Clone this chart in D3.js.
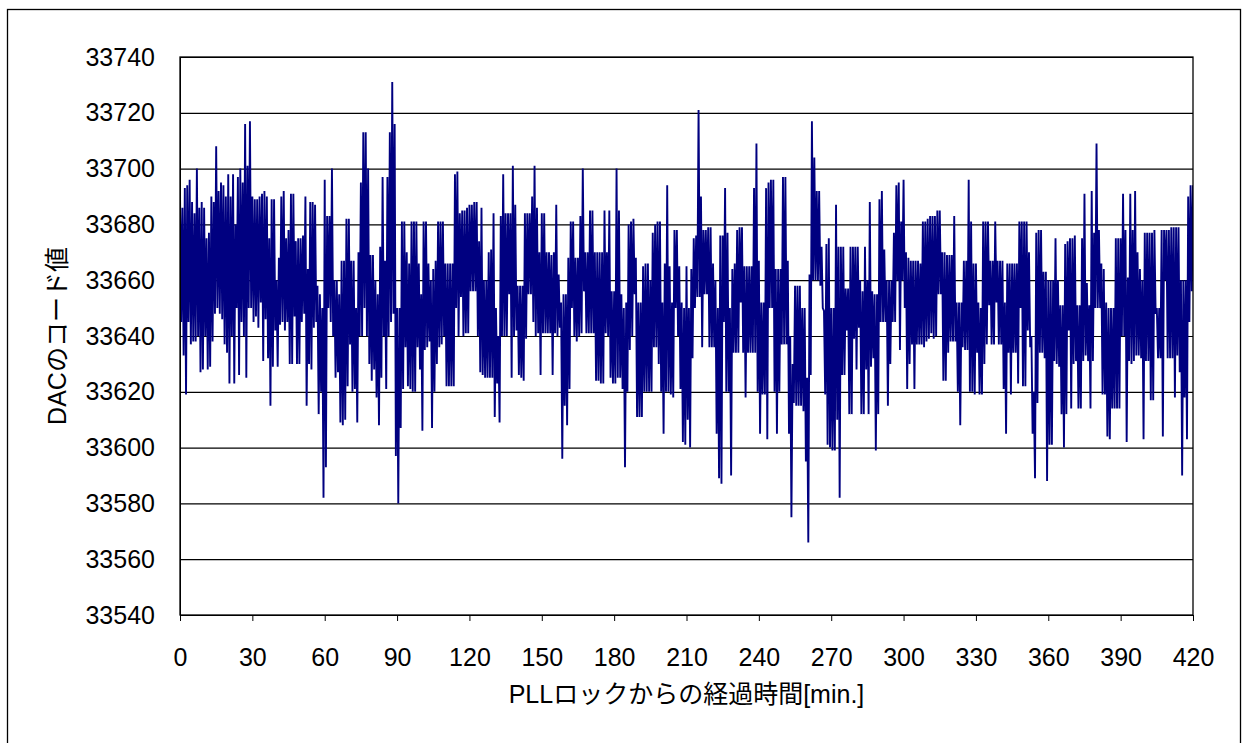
<!DOCTYPE html>
<html>
<head>
<meta charset="utf-8">
<title>DACのコード値</title>
<script src="https://cdnjs.cloudflare.com/ajax/libs/d3/7.8.5/d3.min.js"></script>
<style>
body { margin: 0; background: #fff; }
text { font-family: "Liberation Sans", "Noto Sans CJK JP", sans-serif; fill: #000; }
.grid line { stroke: #000; stroke-width: 1.2px; }
.axis path, .axis line { stroke: #000; stroke-width: 1px; }
.trace { fill: none; stroke: #000080; stroke-width: 1.9px; stroke-linejoin: miter; }
</style>
</head>
<body>
<div id="chart"></div>
<script>
// one reading pair per minute: the highest and the lowest code seen in it
var highCodes = [
  33692,33686,33693,33694,33696,33688,33684,33700,33686,33688,
  33686,33675,33677,33690,33688,33708,33692,33695,33694,33690,
  33698,33690,33698,33680,33697,33700,33695,33716,33701,33717,
  33690,33689,33689,33690,33691,33692,33690,33675,
  33689,33689,33660,33668,33690,33692,33675,33678,33691,33691,33674,33675,
  33675,33676,33690,33664,33688,33688,33687,33658,33655,33650,
  33696,33683,33683,33700,33660,33660,33655,33667,33667,33682,
  33682,33667,33667,33650,33670,33695,33713,
  33713,33700,33669,33669,33660,33655,33672,33697,33667,33697,
  33713,33731,33716,33650,33650,33681,33681,33670,33666,33681,
  33681,33681,33666,33655,33681,33681,33666,33660,33664,33667,
  33681,33681,33681,33666,33666,33666,33666,33698,
  33699,33684,33685,33685,33686,33687,33687,33688,33688,33674,
  33686,33660,33660,33670,33671,33684,33650,33640,33683,33698,
  33684,33684,33684,33701,33687,33658,33658,33658,33684,33684,
  33684,33690,33701,33686,33670,33684,33684,33670,33670,
  33669,33670,33687,33662,33652,33655,33655,33668,33681,33681,
  33668,33668,33683,33700,33670,33670,33685,33685,33670,33670,
  33670,33670,33685,33670,33685,33656,33656,33700,33685,33655,
  33650,33652,33680,33681,33682,33668,33652,33652,33665,
  33666,33666,33660,33677,33680,33681,33681,33652,33666,33694,
  33665,33652,33678,33678,33665,33652,33650,33665,33650,33664,
  33675,33676,33721,33690,33678,33678,33679,33679,33666,33660,
  33650,33676,33676,33693,33677,33650,33664,33666,
  33678,33679,33679,33665,33665,33665,33665,33693,33709,33667,
  33652,33652,33693,33695,33696,33696,33664,33664,33664,33697,
  33697,33667,33640,33630,33658,33658,33658,33650,33650,33625,
  33662,33717,33704,33692,33692,33672,33649,33673,33675,
  33650,33650,33687,33672,33672,33672,33657,33657,33672,33672,
  33672,33672,33660,33656,33672,33660,33688,33656,33655,33655,
  33689,33692,33671,33660,33660,33660,33677,33694,33695,33681,
  33696,33670,33668,33667,33667,33667,33667,33666,
  33681,33681,33682,33683,33683,33683,33685,33685,33670,33670,
  33669,33669,33669,33683,33652,33652,33652,33667,33667,33696,
  33681,33666,33666,33652,33650,33681,33681,33681,33667,33667,
  33681,33667,33667,33667,33652,33666,33666,33666,33666,
  33666,33681,33681,33681,33681,33670,33640,33620,33677,33678,
  33678,33663,33663,33660,33660,33660,33675,33660,33651,33651,
  33673,33674,33675,33675,33676,33651,33651,33675,33691,33659,
  33651,33692,33677,33709,33678,33666,33664,33652,
  33650,33650,33650,33675,33675,33675,33691,33678,33661,33691,
  33678,33692,33670,33664,33660,33677,33677,33677,33677,33678,
  33650,33650,33678,33678,33678,33678,33679,33679,33679,33679,
  33660,33660,33660,33690,33694,33694
];
var lowCodes = [
  33645,33633,33619,33645,33637,33638,33638,33640,33627,33628,
  33640,33628,33629,33638,33648,33650,33648,33646,33637,33634,
  33623,33640,33623,33650,33626,33645,33640,33625,33650,33650,
  33645,33647,33643,33652,33631,33646,33632,33615,
  33629,33642,33629,33644,33645,33642,33645,33630,33630,33647,33630,33630,
  33645,33648,33615,33630,33628,33643,33645,33612,33620,33582,
  33593,33650,33645,33640,33625,33627,33609,33608,33610,33622,
  33637,33620,33621,33609,33640,33640,33650,
  33640,33630,33624,33628,33618,33608,33625,33640,33621,33640,
  33645,33648,33597,33580,33607,33621,33636,33622,33621,33620,
  33620,33636,33628,33606,33635,33636,33638,33607,33620,33630,
  33636,33637,33640,33622,33622,33622,33622,33650,
  33640,33654,33640,33641,33641,33656,33656,33656,33640,33627,
  33626,33625,33625,33625,33625,33611,33623,33609,33640,33640,
  33640,33655,33625,33640,33642,33626,33625,33624,33639,33655,
  33655,33645,33640,33641,33626,33641,33641,33641,33641,
  33626,33641,33640,33643,33596,33615,33608,33621,33650,33640,
  33638,33640,33641,33656,33641,33641,33641,33641,33624,33624,
  33623,33623,33641,33640,33625,33623,33623,33625,33625,33621,
  33593,33620,33635,33640,33655,33611,33611,33611,33620,
  33620,33620,33620,33636,33636,33630,33620,33605,33620,33620,
  33619,33618,33650,33640,33621,33602,33601,33610,33600,33632,
  33650,33654,33654,33636,33655,33655,33636,33636,33636,33605,
  33589,33587,33645,33620,33620,33590,33634,33634,
  33634,33652,33634,33618,33634,33634,33634,33634,33620,33605,
  33619,33619,33603,33650,33650,33620,33605,33620,33637,33637,
  33637,33605,33575,33616,33615,33615,33615,33613,33595,33566,
  33626,33660,33660,33660,33658,33650,33619,33601,33600,
  33599,33599,33610,33582,33626,33626,33642,33612,33612,33639,
  33628,33643,33612,33612,33628,33612,33629,33632,33599,33612,
  33645,33645,33645,33615,33630,33645,33645,33660,33635,33660,
  33650,33621,33630,33637,33621,33637,33637,33637,
  33636,33638,33639,33641,33639,33640,33655,33655,33624,33624,
  33634,33638,33638,33638,33620,33608,33636,33635,33635,33620,
  33620,33619,33634,33619,33619,33630,33637,33651,33637,33637,
  33652,33637,33637,33621,33605,33634,33619,33634,33634,
  33623,33650,33622,33622,33642,33636,33605,33589,33616,33634,
  33634,33632,33588,33601,33601,33631,33630,33629,33612,33600,
  33612,33642,33614,33630,33631,33614,33614,33631,33633,33631,
  33614,33631,33650,33650,33650,33619,33619,33604,
  33603,33614,33614,33614,33614,33640,33640,33602,33631,33630,
  33631,33633,33633,33632,33603,33631,33631,33617,33617,33648,
  33632,33632,33604,33660,33632,33632,33632,33618,33633,33627,
  33590,33618,33603,33645,33656,33656
];
var xTicks = [0, 30, 60, 90, 120, 150, 180, 210, 240, 270, 300, 330, 360, 390, 420];
var yTicks = [33540, 33560, 33580, 33600, 33620, 33640, 33660, 33680, 33700, 33720, 33740];
var xTitle = "PLLロックからの経過時間[min.]";
var yTitle = "DACのコード値";

var width = 1247, height = 743;
var plotLeft = 180, plotRight = 1193, plotTop = 57, plotBottom = 615;

var svg = d3.select("#chart").append("svg")
  .attr("width", width).attr("height", height);

// outer chart frame
svg.append("rect")
  .attr("x", 7.5).attr("y", 9.5)
  .attr("width", 1233).attr("height", 760)
  .attr("fill", "#fff").attr("stroke", "#000").attr("stroke-width", 1.3);

var x = d3.scaleLinear().domain([0, 420]).range([plotLeft, plotRight]);
var y = d3.scaleLinear().domain([33540, 33740]).range([plotBottom, plotTop]);

// horizontal gridlines
svg.append("g")
  .attr("class", "grid")
  .attr("transform", "translate(" + plotLeft + ",0)")
  .call(d3.axisLeft(y).tickValues(yTicks).tickSize(-(plotRight - plotLeft)).tickFormat(""))
  .call(function(g) { g.select(".domain").remove(); });

// trace: high reading at the start of each minute, low reading half way through
var points = [];
highCodes.forEach(function(v, i) {
  points.push([i, v]);
  points.push([i + 0.5, lowCodes[i]]);
});

svg.append("clipPath").attr("id", "plotclip")
  .append("rect").attr("x", plotLeft).attr("y", plotTop)
  .attr("width", plotRight - plotLeft).attr("height", plotBottom - plotTop);

var line = d3.line()
  .x(function(d) { return x(d[0]); })
  .y(function(d) { return y(d[1]); });

svg.append("path")
  .datum(points)
  .attr("class", "trace")
  .attr("clip-path", "url(#plotclip)")
  .attr("d", line);

// plot area border
svg.append("rect")
  .attr("x", plotLeft).attr("y", plotTop)
  .attr("width", plotRight - plotLeft).attr("height", plotBottom - plotTop)
  .attr("fill", "none").attr("stroke", "#000").attr("stroke-width", 1.3);

var xAxis = svg.append("g")
  .attr("class", "axis")
  .attr("transform", "translate(0," + plotBottom + ")")
  .call(d3.axisBottom(x).tickValues(xTicks).tickSize(6).tickPadding(27).tickFormat(d3.format("d")));
xAxis.selectAll("text").style("font-size", "25px");

var yAxis = svg.append("g")
  .attr("class", "axis")
  .attr("transform", "translate(" + plotLeft + ",0)")
  .call(d3.axisLeft(y).tickValues(yTicks).tickSize(0).tickPadding(25).tickFormat(d3.format("d")));
yAxis.selectAll("text").style("font-size", "25px");

svg.append("text")
  .attr("x", (plotLeft + plotRight) / 2).attr("y", 703)
  .attr("text-anchor", "middle")
  .style("font-size", "25px")
  .text(xTitle);

svg.append("text")
  .attr("transform", "translate(66," + (plotTop + plotBottom) / 2 + ") rotate(-90)")
  .attr("text-anchor", "middle")
  .style("font-size", "25px")
  .text(yTitle);
</script>
</body>
</html>
